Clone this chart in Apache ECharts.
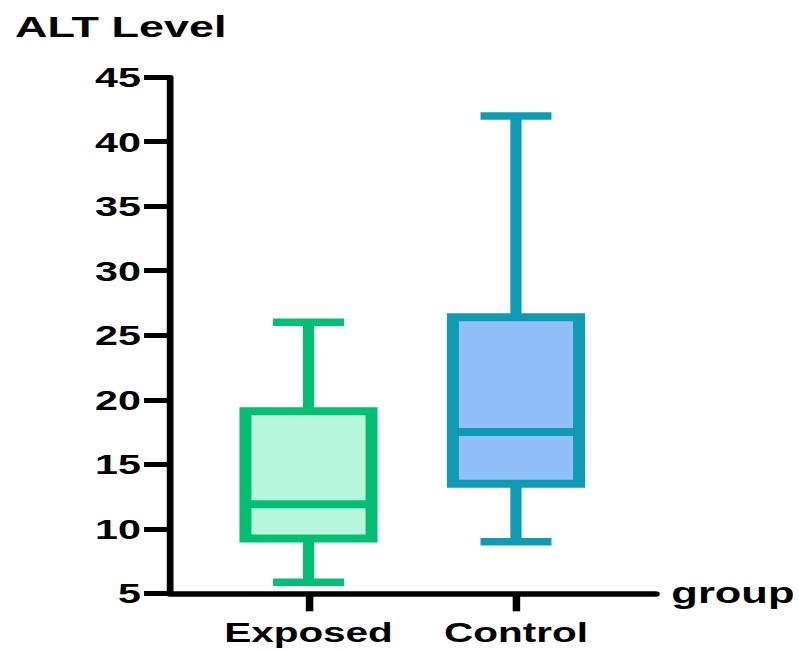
<!DOCTYPE html>
<html>
<head>
<meta charset="utf-8">
<title>ALT Level by group</title>
<script src="https://cdn.jsdelivr.net/npm/echarts@6/dist/echarts.min.js"></script>
<style>
  html, body { margin: 0; padding: 0; background: #fff; overflow: hidden; }
  /* the chart is laid out on a narrow canvas and widened to the full page */
  #chart {
    width: 533px;
    height: 650px;
    transform: scaleX(1.49906);
    transform-origin: 0 0;
  }
</style>
</head>
<body>
<div id="chart"></div>
<script>
// Groups on the horizontal axis
const groups = ['Exposed', 'Control'];

// Five-number summary of ALT level per group
const minimum       = [5.85, 9.0];
const lowerQuartile = [9.25, 13.5];
const median        = [11.9, 17.5];
const upperQuartile = [19.1, 26.4];
const maximum       = [26.0, 42.0];

// Value-axis ticks
const yTicks = [5, 10, 15, 20, 25, 30, 35, 40, 45];

// Per-group colours
const strokeColors = ['#03bf74', '#109bb5'];
const fillColors   = ['#b5f6dc', '#91bff8'];

const boxData = groups.map((g, i) => [
  i, minimum[i], lowerQuartile[i], median[i], upperQuartile[i], maximum[i]
]);

const chart = echarts.init(document.getElementById('chart'), null, { renderer: 'svg' });

const labelFont = {
  color: '#000',
  fontFamily: '"Liberation Sans", Arial, Helvetica, sans-serif',
  fontWeight: 'bold'
};

function renderBox(params, api) {
  const idx = api.value(0);
  const band = api.size([1, 0])[0];
  const boxW = band * 0.608;
  const capW = band * 0.342;
  const pMin = api.coord([idx, api.value(1)]);
  const pQ1  = api.coord([idx, api.value(2)]);
  const pMed = api.coord([idx, api.value(3)]);
  const pQ3  = api.coord([idx, api.value(4)]);
  const pMax = api.coord([idx, api.value(5)]);
  const cx = pMed[0];
  const stroke = strokeColors[idx];
  const fill = fillColors[idx];
  const whisker = { stroke: stroke, lineWidth: 7.5, lineCap: 'butt' };
  return {
    type: 'group',
    children: [
      { type: 'line', shape: { x1: cx, y1: pMax[1], x2: cx, y2: pQ3[1] }, style: whisker },
      { type: 'line', shape: { x1: cx, y1: pQ1[1], x2: cx, y2: pMin[1] }, style: whisker },
      { type: 'line', shape: { x1: cx - capW / 2, y1: pMax[1], x2: cx + capW / 2, y2: pMax[1] }, style: whisker },
      { type: 'line', shape: { x1: cx - capW / 2, y1: pMin[1], x2: cx + capW / 2, y2: pMin[1] }, style: whisker },
      {
        type: 'rect',
        shape: { x: cx - boxW / 2, y: pQ3[1], width: boxW, height: pQ1[1] - pQ3[1] },
        style: { fill: fill, stroke: stroke, lineWidth: 8 }
      },
      {
        type: 'line',
        shape: { x1: cx - boxW / 2, y1: pMed[1], x2: cx + boxW / 2, y2: pMed[1] },
        style: { stroke: stroke, lineWidth: 8, lineCap: 'butt' }
      }
    ]
  };
}

const gridTop = 77.2;
const gridBottom = 56.7;

chart.setOption({
  animation: false,
  backgroundColor: '#fff',
  title: {
    text: 'ALT Level',
    left: 10,
    top: 11,
    padding: 0,
    textStyle: Object.assign({ fontSize: 30 }, labelFont)
  },
  grid: [
    // frame with the visible axis lines
    { left: 113.4, right: 95.4, top: gridTop, bottom: gridBottom },
    // plotting area for the group bands
    { left: 136.6, width: 276.8, top: gridTop, bottom: gridBottom }
  ],
  xAxis: [
    {
      gridIndex: 0,
      type: 'value',
      min: 0,
      max: 1,
      name: 'group',
      nameLocation: 'end',
      nameGap: 10.5,
      nameTextStyle: Object.assign({ fontSize: 29, verticalAlign: 'middle' }, labelFont),
      axisLine: { show: true, lineStyle: { color: '#000', width: 5.5 } },
      axisTick: { show: false },
      axisLabel: { show: false },
      splitLine: { show: false }
    },
    {
      gridIndex: 1,
      type: 'category',
      data: groups,
      axisLine: { show: false },
      axisTick: {
        show: true, interval: 0, alignWithLabel: true, length: 18,
        lineStyle: { color: '#000', width: 5 }
      },
      axisLabel: Object.assign({ fontSize: 27, margin: 25.5, interval: 0, hideOverlap: false }, labelFont),
      splitLine: { show: false }
    }
  ],
  yAxis: [
    {
      gridIndex: 0,
      type: 'value',
      min: yTicks[0],
      max: yTicks[yTicks.length - 1],
      interval: yTicks[1] - yTicks[0],
      axisLine: { show: true, lineStyle: { color: '#000', width: 4.5 } },
      axisTick: { show: true, length: 17.3, lineStyle: { color: '#000', width: 5 } },
      axisLabel: Object.assign({ fontSize: 27.5, margin: 19.4 }, labelFont),
      splitLine: { show: false }
    },
    {
      gridIndex: 1,
      type: 'value',
      min: yTicks[0],
      max: yTicks[yTicks.length - 1],
      interval: yTicks[1] - yTicks[0],
      show: false
    }
  ],
  series: [
    {
      type: 'custom',
      name: 'ALT Level',
      xAxisIndex: 1,
      yAxisIndex: 1,
      renderItem: renderBox,
      encode: { x: 0, y: [1, 2, 3, 4, 5] },
      data: boxData
    }
  ]
});
</script>
</body>
</html>
